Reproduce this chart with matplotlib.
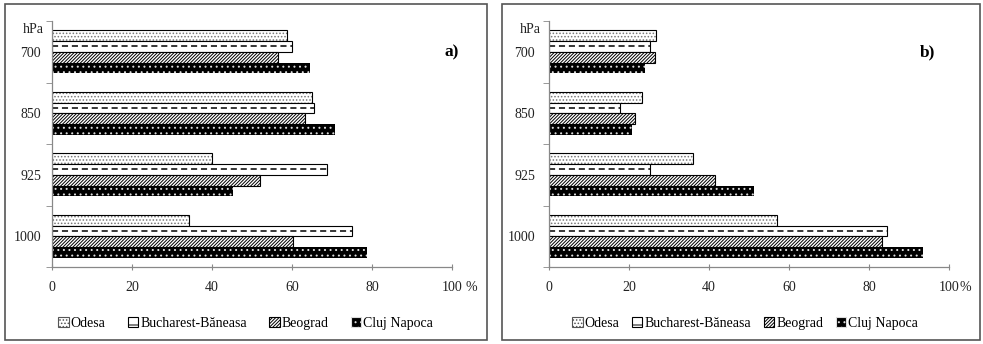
import matplotlib
matplotlib.use('Agg')
import matplotlib.pyplot as plt
import numpy as np
from matplotlib.patches import Patch, Rectangle

plt.rcParams['font.family'] = ['Liberation Serif', 'DejaVu Serif']
plt.rcParams['hatch.linewidth'] = 0.7

# ----- Data -----
levels = ['700', '850', '925', '1000']
stations = ['Odesa', 'Bucharest-Băneasa', 'Beograd', 'Cluj Napoca']

# panel a)
a_odesa = [58.7, 65.0, 40.0, 34.2]
a_bucharest = [60.0, 65.5, 68.8, 75.0]
a_beograd = [56.4, 63.2, 52.0, 60.3]
a_cluj = [64.5, 70.8, 45.3, 78.7]

# panel b)
b_odesa = [26.8, 23.2, 36.0, 57.0]
b_bucharest = [25.3, 17.8, 25.3, 84.5]
b_beograd = [26.5, 21.5, 41.5, 83.2]
b_cluj = [24.0, 20.7, 51.3, 93.5]

x_ticks = [0, 20, 40, 60, 80, 100]

bar_h = 0.175


def draw_panel(ax, odesa, bucharest, beograd, cluj, pct_offset, lab_pad):
    y = np.arange(len(levels))
    # Odesa - white, small grey dots
    ax.barh(y - 1.5 * bar_h, odesa, height=bar_h, color='white',
            edgecolor='#777777', hatch='.....', linewidth=0)
    ax.barh(y - 1.5 * bar_h, odesa, height=bar_h, fill=False,
            edgecolor='black', linewidth=0.8)
    # Bucharest - white with dashed middle line
    ax.barh(y - 0.5 * bar_h, bucharest, height=bar_h, color='white',
            edgecolor='black', linewidth=0.8)
    ax.hlines(y - 0.5 * bar_h, 0, bucharest, colors='black',
              linestyles=(0, (4, 2.5)), linewidth=1.1)
    # Beograd - diagonal hatching
    ax.barh(y + 0.5 * bar_h, beograd, height=bar_h, color='white',
            edgecolor='black', hatch='//////////', linewidth=0.8)
    # Cluj Napoca - black with white dots
    ax.barh(y + 1.5 * bar_h, cluj, height=bar_h, color='black',
            edgecolor='#dddddd', hatch='...', linewidth=0)

    ax.set_ylim(3.5, -0.5)
    ax.set_xlim(0, 100)
    ax.set_yticks(y)
    ax.set_yticklabels(levels)
    ax.set_yticks(np.arange(-0.5, 4, 1), minor=True)
    ax.set_xticks(x_ticks)
    ax.set_xticklabels([str(t) for t in x_ticks])
    ax.tick_params(axis='y', which='major', length=0, pad=lab_pad,
                   labelsize=10, labelcolor='#222222')
    ax.tick_params(axis='y', which='minor', length=4, color='#888888')
    ax.tick_params(axis='x', length=4, direction='inout', color='#888888',
                   pad=8, labelsize=10, labelcolor='#222222')
    for s in ['top', 'right']:
        ax.spines[s].set_visible(False)
    for s in ['left', 'bottom']:
        ax.spines[s].set_color('#888888')
        ax.spines[s].set_linewidth(0.9)

    ax.annotate('%', xy=(100, 0), xycoords=('data', 'axes fraction'),
                xytext=(pct_offset, -10), textcoords='offset points',
                ha='left', va='top', fontsize=10, color='#222222')
    ax.annotate('hPa', xy=(0, 0.965), xycoords='axes fraction',
                xytext=(-6, 0), textcoords='offset points',
                ha='right', va='center', fontsize=10, color='#222222')


fig = plt.figure(figsize=(9.83, 3.44), dpi=100)

ax1 = fig.add_axes([0.0529, 0.2238, 0.4069, 0.715])
ax2 = fig.add_axes([0.5585, 0.2238, 0.4069, 0.715])

draw_panel(ax1, a_odesa, a_bucharest, a_beograd, a_cluj, 9.5, 8)
draw_panel(ax2, b_odesa, b_bucharest, b_beograd, b_cluj, 7.5, 10)

fig.text(452 / 983, 1 - 52 / 344, 'a)', fontsize=12.5, fontweight='bold',
         ha='center', va='center')
fig.text(927 / 983, 1 - 52 / 344, 'b)', fontsize=12.5, fontweight='bold',
         ha='center', va='center')

# ----- Legends -----
handles = [
    Patch(facecolor='white', edgecolor='#555555', hatch='.....', linewidth=0.8),
    Patch(facecolor='white', edgecolor='black', hatch='-', linewidth=0.8),
    Patch(facecolor='white', edgecolor='black', hatch='//////////', linewidth=0.8),
    Patch(facecolor='black', edgecolor='#dddddd', hatch='...', linewidth=0.8),
]
leg_kw = dict(ncol=4, frameon=False, fontsize=10, handlelength=0.75,
              handleheight=0.75, handletextpad=0.15, loc='center')
fig.legend(handles, stations, bbox_to_anchor=(0.25, 0.061),
           columnspacing=1.6, **leg_kw)
fig.legend(handles, stations, bbox_to_anchor=(0.758, 0.061),
           columnspacing=0.9, **leg_kw)

# ----- Panel frames -----
fig.patches.append(Rectangle((5 / 983, 4 / 344), 482 / 983, 336 / 344,
                             transform=fig.transFigure, fill=False,
                             edgecolor='#555555', linewidth=1.2))
fig.patches.append(Rectangle((502 / 983, 4 / 344), 478 / 983, 336 / 344,
                             transform=fig.transFigure, fill=False,
                             edgecolor='#555555', linewidth=1.2))

fig.savefig('out.png', dpi=100)
